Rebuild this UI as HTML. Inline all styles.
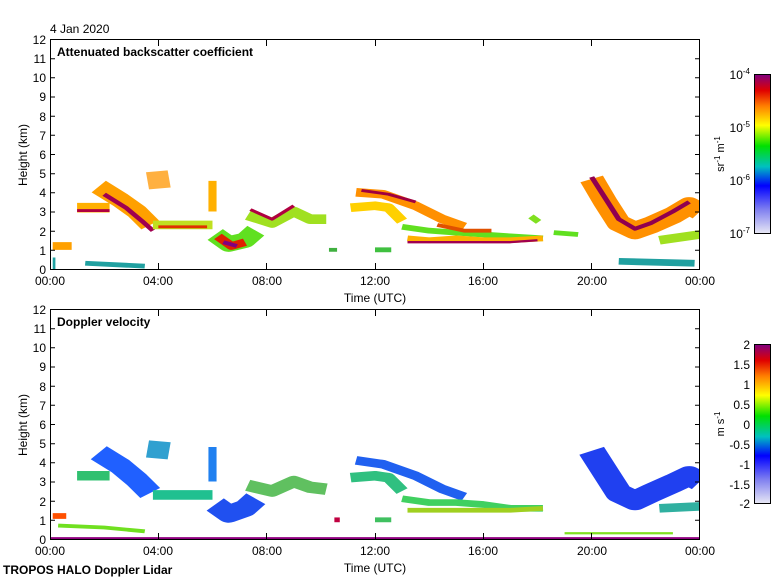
<!DOCTYPE html>
<html><head><meta charset="utf-8"><style>
body{margin:0;background:#fff;}
svg{display:block;font-family:"Liberation Sans",sans-serif;}
</style></head><body>
<svg width="780" height="580" viewBox="0 0 780 580" xmlns="http://www.w3.org/2000/svg">
<defs>
<linearGradient id="cb1" x1="0" y1="1" x2="0" y2="0">
<stop offset="0" stop-color="#e8e8f4"/><stop offset="0.15" stop-color="#8080f0"/><stop offset="0.3" stop-color="#0000ff"/><stop offset="0.42" stop-color="#00c0c0"/><stop offset="0.55" stop-color="#00e000"/><stop offset="0.68" stop-color="#ffff00"/><stop offset="0.8" stop-color="#ff8000"/><stop offset="0.9" stop-color="#e00000"/><stop offset="1" stop-color="#800080"/>
</linearGradient>
<clipPath id="c1"><rect x="51" y="40" width="648" height="229"/></clipPath>
<clipPath id="c2"><rect x="51" y="310" width="648" height="229"/></clipPath>
</defs>
<text x="50" y="33" font-size="12">4 Jan 2020</text>
<g clip-path="url(#c1)">
<g transform="translate(50,269) scale(27.083,-19.167)" fill="none" stroke-linecap="butt" stroke-linejoin="round">
<polyline points="0.1,1.2 0.8,1.2" stroke="#ffa000" stroke-width="0.4"/>
<polyline points="0.1,0.3 0.2,0.3" stroke="#20a0a0" stroke-width="0.6"/>
<polyline points="1.3,0.3 3.5,0.15" stroke="#20a0a0" stroke-width="0.25"/>
<polyline points="1,3.2 2.2,3.2" stroke="#ffb000" stroke-width="0.5"/>
<polyline points="1,3.05 2.2,3.05" stroke="#b00040" stroke-width="0.15"/>
<polyline points="1.8,4.3 2.6,3.6 3.2,3 3.7,2.3" stroke="#ffa000" stroke-width="0.8"/>
<polyline points="2,3.9 2.8,3.2 3.4,2.5 3.8,2" stroke="#a00050" stroke-width="0.2"/>
<polyline points="3.6,4.6 4.4,4.7" stroke="#ffb040" stroke-width="0.9"/>
<polyline points="3.8,2.3 6,2.3" stroke="#c0e020" stroke-width="0.45"/>
<polyline points="4,2.2 5.8,2.2" stroke="#e03000" stroke-width="0.15"/>
<polyline points="6,3 6,4.6" stroke="#ffb000" stroke-width="0.3"/>
<polyline points="6.1,1.8 6.6,1.3 7.2,1.5 7.6,2" stroke="#60e020" stroke-width="0.8"/>
<polyline points="6.2,1.7 6.7,1.2 7.2,1.4" stroke="#e02000" stroke-width="0.4"/>
<polyline points="6.4,1.4 6.9,1.2" stroke="#800080" stroke-width="0.2"/>
<polyline points="7.3,2.8 8.2,2.4 9,3 9.6,2.6 10.2,2.6" stroke="#a0e020" stroke-width="0.5"/>
<polyline points="7.4,3.1 8.2,2.6 9,3.3" stroke="#b00040" stroke-width="0.15"/>
<polyline points="10.3,1 10.6,1" stroke="#40b040" stroke-width="0.2"/>
<polyline points="11.1,3.2 12,3.3 12.5,3.2 13,2.5" stroke="#ffd000" stroke-width="0.45"/>
<polyline points="11.3,4 12.3,3.9 13.5,3.3 14.5,2.6 15.3,2.2" stroke="#ff9000" stroke-width="0.45"/>
<polyline points="11.5,4.1 12.5,3.9 13.5,3.5" stroke="#a00040" stroke-width="0.15"/>
<polyline points="12,1 12.6,1" stroke="#40c040" stroke-width="0.25"/>
<polyline points="13,2.2 14,2 15,1.9 16,1.8 17,1.7 18.2,1.6" stroke="#60e020" stroke-width="0.3"/>
<polyline points="13.2,1.6 14,1.5 15,1.6 16,1.5 17,1.5 18.2,1.6" stroke="#ffb000" stroke-width="0.3"/>
<polyline points="13.2,1.4 15,1.4 17,1.4 18,1.5" stroke="#a00050" stroke-width="0.12"/>
<polyline points="14.3,2.3 15.3,2 16.3,2" stroke="#e05000" stroke-width="0.2"/>
<polyline points="17.8,2.5 18,2.7" stroke="#80e020" stroke-width="0.4"/>
<polyline points="18.6,1.9 19.5,1.8" stroke="#60e020" stroke-width="0.25"/>
<polyline points="20,4.7 20.5,3.5 21,2.4 21.6,2 22.2,2.3 23,2.8 23.6,3.3 24,3" stroke="#ff9000" stroke-width="0.9"/>
<polyline points="20,4.8 20.5,3.7 21,2.6 21.6,2.1 22.2,2.4 23,3 23.6,3.5" stroke="#900050" stroke-width="0.2"/>
<polyline points="22.5,1.5 24,1.8" stroke="#a0e020" stroke-width="0.45"/>
<polyline points="21,0.4 23.8,0.3" stroke="#20a0a0" stroke-width="0.35"/>
</g></g>
<g clip-path="url(#c2)">
<g transform="translate(50,539) scale(27.083,-19.167)" fill="none" stroke-linecap="butt" stroke-linejoin="round">
<polyline points="0.1,1.2 0.6,1.2" stroke="#ff5000" stroke-width="0.3"/>
<polyline points="0.3,0.7 2,0.6 3.5,0.4" stroke="#70e020" stroke-width="0.2"/>
<polyline points="1,3.3 2.2,3.3" stroke="#30c070" stroke-width="0.5"/>
<polyline points="1.8,4.5 2.6,3.8 3.2,3.1 3.7,2.4" stroke="#2060ff" stroke-width="0.9"/>
<polyline points="3.6,4.7 4.4,4.6" stroke="#30a0d0" stroke-width="0.9"/>
<polyline points="3.8,2.3 6,2.3" stroke="#20c090" stroke-width="0.5"/>
<polyline points="6,3 6,4.8" stroke="#2080f0" stroke-width="0.3"/>
<polyline points="6.1,1.8 6.6,1.3 7.2,1.6 7.6,2.1" stroke="#2050f0" stroke-width="0.9"/>
<polyline points="7.3,2.8 8.2,2.5 9,3 9.6,2.7 10.2,2.6" stroke="#60c060" stroke-width="0.6"/>
<polyline points="10.5,1 10.7,1" stroke="#c00040" stroke-width="0.25"/>
<polyline points="11.1,3.2 12,3.3 12.5,3.2 13,2.5" stroke="#30c080" stroke-width="0.5"/>
<polyline points="11.3,4.1 12.3,3.9 13.5,3.3 14.5,2.6 15.3,2.2" stroke="#2060f0" stroke-width="0.45"/>
<polyline points="12,1 12.6,1" stroke="#40c060" stroke-width="0.25"/>
<polyline points="13,2.1 14,1.9 15,1.9 16,1.8 17,1.6 18.2,1.6" stroke="#40d060" stroke-width="0.35"/>
<polyline points="13.2,1.5 15,1.5 17,1.5 18.2,1.6" stroke="#a0d020" stroke-width="0.25"/>
<polyline points="20,4.6 20.5,3.5 21,2.4 21.6,2 22.2,2.4 23,2.9 23.6,3.3 24,3" stroke="#2040f0" stroke-width="1"/>
<polyline points="22.5,1.6 24,1.7" stroke="#30b0a0" stroke-width="0.45"/>
<polyline points="19,0.3 23,0.3" stroke="#80e020" stroke-width="0.12"/>
<polyline points="0,0.05 24,0.05" stroke="#900080" stroke-width="0.1"/>
</g></g>
<g stroke="#000" stroke-width="1" fill="none">
<rect x="50.5" y="39.5" width="649" height="230"/>
<rect x="50.5" y="309.5" width="649" height="230"/>
</g>
<g stroke="#000" stroke-width="1">
<path d="M50,58.7h5M50,77.8h5M50,97h5M50,116.2h5M50,135.3h5M50,154.5h5M50,173.7h5M50,192.8h5M50,212h5M50,231.2h5M50,250.3h5
M700,58.7h-5M700,77.8h-5M700,97h-5M700,116.2h-5M700,135.3h-5M700,154.5h-5M700,173.7h-5M700,192.8h-5M700,212h-5M700,231.2h-5M700,250.3h-5
M50,328.7h5M50,347.8h5M50,367h5M50,386.2h5M50,405.3h5M50,424.5h5M50,443.7h5M50,462.8h5M50,482h5M50,501.2h5M50,520.3h5
M700,328.7h-5M700,347.8h-5M700,367h-5M700,386.2h-5M700,405.3h-5M700,424.5h-5M700,443.7h-5M700,462.8h-5M700,482h-5M700,501.2h-5M700,520.3h-5
M158.5,269v-6M266.5,269v-6M375.5,269v-6M483.5,269v-6M591.5,269v-6
M158.5,40v6M266.5,40v6M375.5,40v6M483.5,40v6M591.5,40v6
M158.5,539v-6M266.5,539v-6M375.5,539v-6M483.5,539v-6M591.5,539v-6
M158.5,310v6M266.5,310v6M375.5,310v6M483.5,310v6M591.5,310v6"/>
</g>
<g font-size="12" text-anchor="end">
<text x="46" y="44">12</text><text x="46" y="63">11</text><text x="46" y="82">10</text><text x="46" y="101">9</text><text x="46" y="121">8</text><text x="46" y="140">7</text><text x="46" y="159">6</text><text x="46" y="178">5</text><text x="46" y="197">4</text><text x="46" y="216">3</text><text x="46" y="236">2</text><text x="46" y="255">1</text><text x="46" y="274">0</text>
<text x="46" y="314">12</text><text x="46" y="333">11</text><text x="46" y="352">10</text><text x="46" y="371">9</text><text x="46" y="391">8</text><text x="46" y="410">7</text><text x="46" y="429">6</text><text x="46" y="448">5</text><text x="46" y="467">4</text><text x="46" y="486">3</text><text x="46" y="506">2</text><text x="46" y="525">1</text><text x="46" y="544">0</text>
</g>
<g font-size="12" text-anchor="middle">
<text x="50" y="285">00:00</text><text x="158" y="285">04:00</text><text x="267" y="285">08:00</text><text x="375" y="285">12:00</text><text x="483" y="285">16:00</text><text x="592" y="285">20:00</text><text x="700" y="285">00:00</text>
<text x="375" y="302">Time (UTC)</text>
<text x="50" y="555">00:00</text><text x="158" y="555">04:00</text><text x="267" y="555">08:00</text><text x="375" y="555">12:00</text><text x="483" y="555">16:00</text><text x="592" y="555">20:00</text><text x="700" y="555">00:00</text>
<text x="375" y="572">Time (UTC)</text>
<text transform="translate(27,155) rotate(-90)">Height (km)</text>
<text transform="translate(27,425) rotate(-90)">Height (km)</text>
</g>
<text x="57" y="56" font-size="12" font-weight="bold">Attenuated backscatter coefficient</text>
<text x="57" y="326" font-size="12" font-weight="bold">Doppler velocity</text>
<text x="3" y="574" font-size="12" font-weight="bold">TROPOS HALO Doppler Lidar</text>
<rect x="754.5" y="74.5" width="16" height="159" fill="url(#cb1)" stroke="#000"/>
<rect x="754.5" y="344.5" width="16" height="159" fill="url(#cb1)" stroke="#000"/>
<g font-size="12" text-anchor="end">
<text x="750" y="79">10<tspan font-size="8" dy="-5">-4</tspan></text>
<text x="750" y="132">10<tspan font-size="8" dy="-5">-5</tspan></text>
<text x="750" y="185">10<tspan font-size="8" dy="-5">-6</tspan></text>
<text x="750" y="238">10<tspan font-size="8" dy="-5">-7</tspan></text>
<text x="750" y="349">2</text><text x="750" y="369">1.5</text><text x="750" y="389">1</text><text x="750" y="409">0.5</text><text x="750" y="429">0</text><text x="750" y="449">-0.5</text><text x="750" y="469">-1</text><text x="750" y="489">-1.5</text><text x="750" y="508">-2</text>
</g>
<text font-size="11" text-anchor="middle" transform="translate(724,154) rotate(-90)">sr<tspan font-size="8" dy="-4">-1</tspan><tspan dy="4"> m</tspan><tspan font-size="8" dy="-4">-1</tspan></text>
<text font-size="11" text-anchor="middle" transform="translate(724,424) rotate(-90)">m s<tspan font-size="8" dy="-4">-1</tspan></text>
</svg>
</body></html>
